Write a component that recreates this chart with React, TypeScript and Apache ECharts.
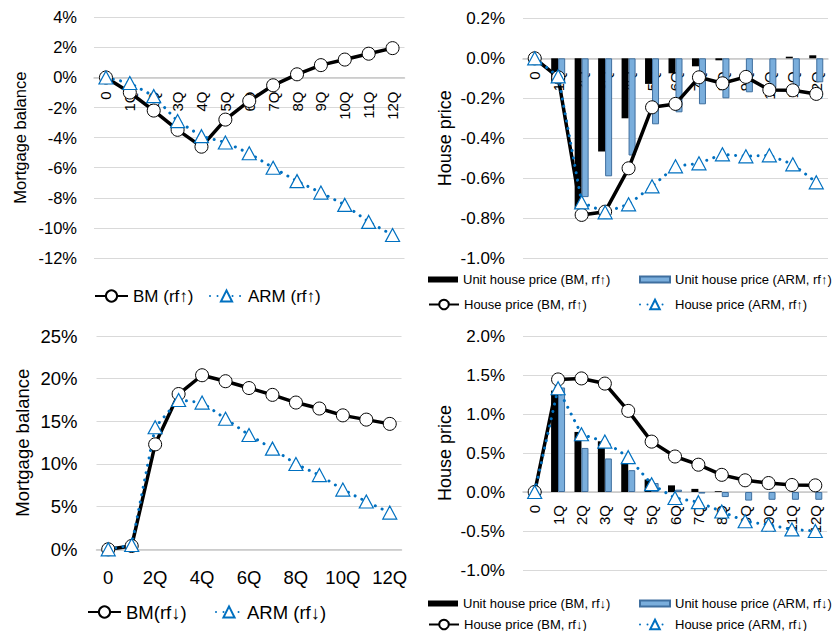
import React, { useEffect, useRef } from 'react';
import * as echarts from 'echarts';

const CATS = ['0', '1Q', '2Q', '3Q', '4Q', '5Q', '6Q', '7Q', '8Q', '9Q', '10Q', '11Q', '12Q'];

// Mortgage balance, % (rf up / rf down)
const BM_UP_BAL = [0, -1.0, -2.2, -3.48, -4.6, -2.8, -1.56, -0.52, 0.21, 0.82, 1.19, 1.58, 1.95];
const ARM_UP_BAL = [0, -0.37, -1.24, -2.9, -3.9, -4.32, -5.04, -6.0, -6.89, -7.65, -8.47, -9.6, -10.47];
const BM_DOWN_BAL = [0, 0.39, 12.3, 18.2, 20.4, 19.7, 18.9, 18.1, 17.2, 16.5, 15.7, 15.2, 14.7];
const ARM_DOWN_BAL = [0, 0.5, 14.3, 17.5, 17.2, 15.3, 13.4, 11.8, 10.0, 8.7, 7.0, 5.6, 4.3];

// House price, % (rf up)
const UNIT_BM_UP = [0, -0.12, -0.75, -0.466, -0.3, -0.128, -0.075, -0.04, -0.01, 0, 0, 0.008, 0.015];
const UNIT_ARM_UP = [0, -0.12, -0.694, -0.59, -0.486, -0.33, -0.27, -0.23, -0.2, -0.17, -0.15, -0.14, -0.12];
const HP_BM_UP = [0, -0.095, -0.783, -0.767, -0.55, -0.245, -0.228, -0.095, -0.125, -0.093, -0.158, -0.16, -0.178];
const HP_ARM_UP = [0, -0.09, -0.72, -0.77, -0.73, -0.64, -0.54, -0.525, -0.48, -0.49, -0.485, -0.53, -0.62];

// House price, % (rf down)
const UNIT_BM_DOWN = [0, 1.3, 0.77, 0.65, 0.38, 0.16, 0.085, 0.04, 0.01, 0, 0, 0, 0];
const UNIT_ARM_DOWN = [0, 1.34, 0.565, 0.43, 0.28, 0.115, 0.03, -0.02, -0.065, -0.11, -0.1, -0.1, -0.1];
const HP_BM_DOWN = [0, 1.443, 1.456, 1.39, 1.04, 0.646, 0.455, 0.35, 0.22, 0.15, 0.115, 0.09, 0.085];
const HP_ARM_DOWN = [0, 1.33, 0.74, 0.646, 0.447, 0.1, -0.077, -0.13, -0.25, -0.375, -0.42, -0.48, -0.5];

// Value axis ranges [min, max, interval]
const Y_TL = [-12, 4, 2];
const Y_TR = [-1, 0.2, 0.2];
const Y_BL = [0, 25, 5];
const Y_BR = [-1, 2, 0.5];

const FONT = '"Liberation Sans", Arial, sans-serif';
const BLUE = '#0070C0';

const grids = [
  { left: 94, top: 17.3, width: 310.5, height: 240.7 },
  { left: 523, top: 18.3, width: 305, height: 240 },
  { left: 96.5, top: 336, width: 305, height: 213.3 },
  { left: 523, top: 336, width: 304, height: 234 },
];
const yRanges = [Y_TL, Y_TR, Y_BL, Y_BR];

// offset that moves the category axis from the grid bottom up to the value 0
const zeroOffset = (gi: number) => {
  const [min, max] = yRanges[gi];
  return -grids[gi].height * (0 - min) / (max - min);
};

const xAx = (gi: number, fs: number, rotate: number, interval: number, margin: number) => ({
  type: 'category',
  gridIndex: gi,
  data: CATS,
  boundaryGap: true,
  position: 'bottom',
  offset: zeroOffset(gi),
  axisTick: { show: false },
  axisLine: { onZero: false, lineStyle: { color: '#c8c8c8', width: 1.5 } },
  axisLabel: { rotate, interval, margin, fontSize: fs, color: '#000', fontFamily: FONT },
  splitLine: { show: false },
});

const yAx = (
  gi: number, name: string, dec: number,
  fs: number, nameFs: number, nameGap: number, margin: number,
) => ({
  type: 'value',
  gridIndex: gi,
  min: yRanges[gi][0], max: yRanges[gi][1], interval: yRanges[gi][2],
  name,
  nameLocation: 'middle',
  nameGap,
  nameTextStyle: { fontSize: nameFs, color: '#000', fontFamily: FONT },
  axisLabel: {
    formatter: (v: number) => v.toFixed(dec) + '%',
    fontSize: fs, margin, color: '#000', fontFamily: FONT,
  },
  splitLine: { lineStyle: { color: '#d9d9d9', width: 1 } },
  axisLine: { show: false },
  axisTick: { show: false },
});

const lineBM = (name: string, data: number[], idx: number) => ({
  type: 'line', name, data, xAxisIndex: idx, yAxisIndex: idx,
  symbol: 'circle', symbolSize: 13,
  lineStyle: { color: '#000', width: 3.5 },
  itemStyle: { color: '#fff', borderColor: '#000', borderWidth: 1 },
});

const lineARM = (name: string, data: number[], idx: number) => ({
  type: 'line', name, data, xAxisIndex: idx, yAxisIndex: idx,
  symbol: 'triangle', symbolSize: [14, 13],
  lineStyle: { color: BLUE, width: 3, type: [0.01, 7.5], cap: 'round' },
  itemStyle: { color: '#fff', borderColor: BLUE, borderWidth: 1.2 },
});

const barBM = (name: string, data: number[], idx: number) => ({
  type: 'bar', name, data, xAxisIndex: idx, yAxisIndex: idx,
  barWidth: 7, barGap: '0%',
  itemStyle: { color: '#000' },
});

const barARM = (name: string, data: number[], idx: number) => ({
  type: 'bar', name, data, xAxisIndex: idx, yAxisIndex: idx,
  barWidth: 7, barGap: '0%',
  itemStyle: { color: '#7aaedc', borderColor: '#3f6f9f', borderWidth: 1 },
});

const leg = (name: string, left: number, top: number, iw: number, ih: number, fs: number, icon?: string) => ({
  data: [icon ? { name, icon } : { name }],
  left, top,
  itemWidth: iw, itemHeight: ih,
  padding: 0,
  selectedMode: false,
  textStyle: { fontSize: fs, color: '#000', fontFamily: FONT },
});

const N = {
  bmUp: 'BM (rf↑)', armUp: 'ARM (rf↑)', bmDown: 'BM(rf↓)', armDown: 'ARM (rf↓)',
  ubmUp: 'Unit house price (BM, rf↑)', uarmUp: 'Unit house price (ARM, rf↑)',
  hbmUp: 'House price (BM, rf↑)', harmUp: 'House price (ARM, rf↑)',
  ubmDown: 'Unit house price (BM, rf↓)', uarmDown: 'Unit house price (ARM, rf↓)',
  hbmDown: 'House price (BM, rf↓)', harmDown: 'House price (ARM, rf↓)',
};

const option = {
  animation: false,
  backgroundColor: '#fff',
  grid: grids,
  xAxis: [
    xAx(0, 15, 90, 0, 14),
    xAx(1, 15, 90, 0, 13),
    xAx(2, 18.5, 0, 1, 19),
    xAx(3, 15, 90, 0, 13),
  ],
  yAxis: [
    yAx(0, 'Mortgage balance', 0, 16.5, 16.5, 66, 17),
    yAx(1, 'House price', 1, 17, 18, 69, 18),
    yAx(2, 'Mortgage balance', 0, 18.5, 18.5, 65, 19),
    yAx(3, 'House price', 1, 17, 18, 69, 18),
  ],
  legend: [
    leg(N.bmUp, 94, 287.5, 33, 14, 17),
    leg(N.armUp, 209, 287.5, 33, 14, 17),
    leg(N.bmDown, 87, 602.5, 33, 14, 18.5),
    leg(N.armDown, 215, 602.5, 26, 14, 18.5),
    leg(N.ubmUp, 428, 273, 30, 6, 13, 'rect'),
    leg(N.uarmUp, 639, 273, 30, 6, 13, 'rect'),
    leg(N.hbmUp, 428, 298, 30, 12, 13),
    leg(N.harmUp, 639, 298, 30, 12, 13),
    leg(N.ubmDown, 428, 597, 30, 6, 13, 'rect'),
    leg(N.uarmDown, 639, 597, 30, 6, 13, 'rect'),
    leg(N.hbmDown, 428, 618, 30, 12, 13),
    leg(N.harmDown, 639, 618, 30, 12, 13),
  ],
  series: [
    lineBM(N.bmUp, BM_UP_BAL, 0),
    lineARM(N.armUp, ARM_UP_BAL, 0),
    barBM(N.ubmUp, UNIT_BM_UP, 1),
    barARM(N.uarmUp, UNIT_ARM_UP, 1),
    lineBM(N.hbmUp, HP_BM_UP, 1),
    lineARM(N.harmUp, HP_ARM_UP, 1),
    lineBM(N.bmDown, BM_DOWN_BAL, 2),
    lineARM(N.armDown, ARM_DOWN_BAL, 2),
    barBM(N.ubmDown, UNIT_BM_DOWN, 3),
    barARM(N.uarmDown, UNIT_ARM_DOWN, 3),
    lineBM(N.hbmDown, HP_BM_DOWN, 3),
    lineARM(N.harmDown, HP_ARM_DOWN, 3),
  ],
};

export default function App() {
  const ref = useRef<HTMLDivElement>(null);
  useEffect(() => {
    document.body.style.margin = '0';
    const chart = echarts.init(ref.current!, null, { renderer: 'svg' });
    chart.setOption(option as any);
    return () => chart.dispose();
  }, []);
  return (
    <div
      ref={ref}
      style={{ position: 'absolute', left: 0, top: 0, width: 836, height: 631, background: '#fff' }}
    />
  );
}
